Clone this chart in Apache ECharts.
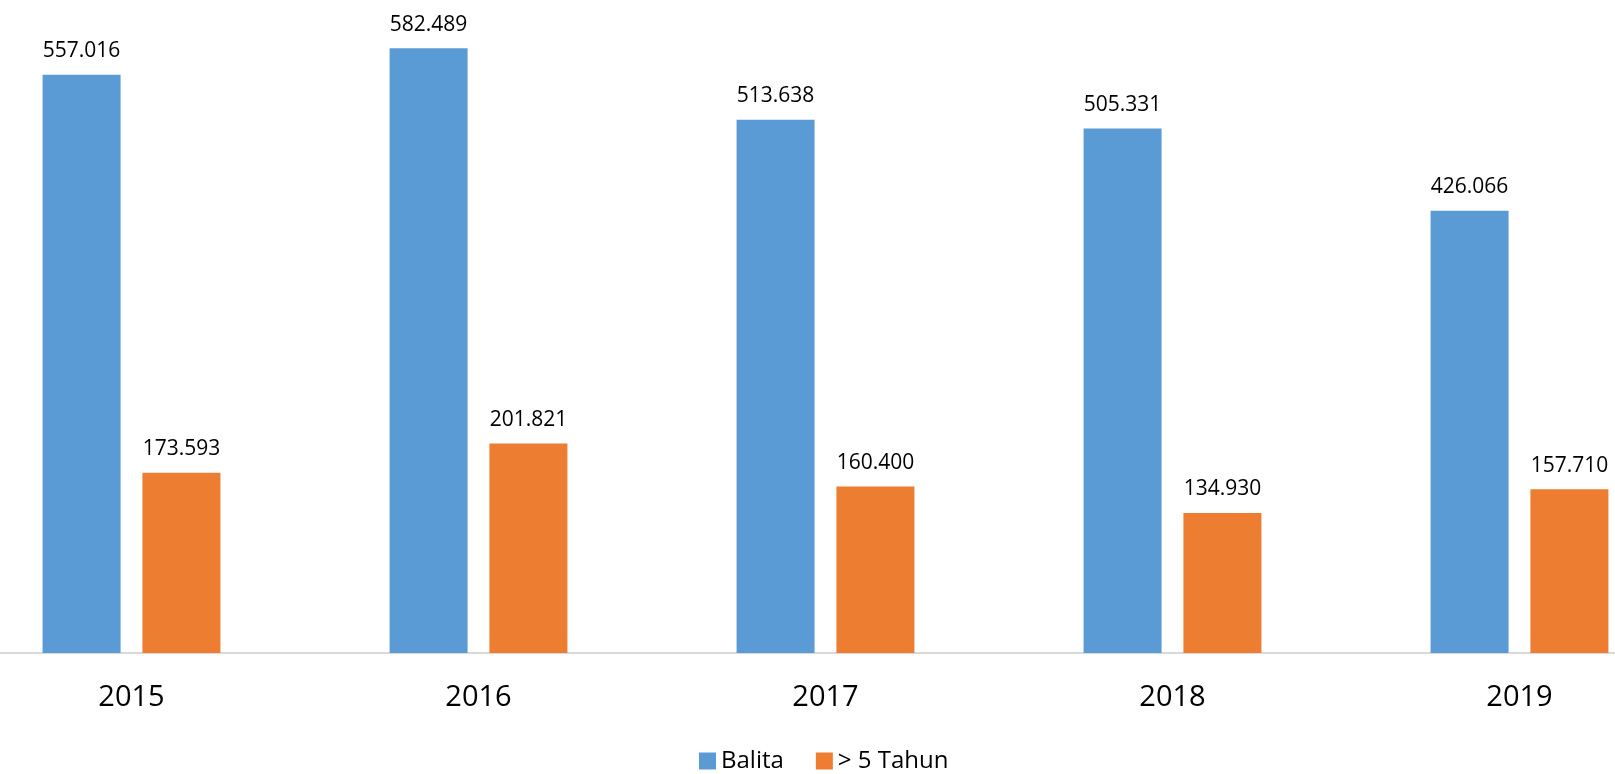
<!DOCTYPE html>
<html lang="id">

<head>
    <meta charset="UTF-8">
    <title>Balita dan > 5 Tahun</title>
    <script src="https://cdn.jsdelivr.net/npm/echarts@6/dist/echarts.min.js"></script>
    <style>
        html, body {
            margin: 0;
            height: 100%;
            background: #fff;
        }

        #chart {
            width: 1615px;
            height: 774px;
        }
    </style>
</head>

<body>
    <div id="chart"></div>
    <script>
        var years = ['2015', '2016', '2017', '2018', '2019'];
        var balita = [557016, 582489, 513638, 505331, 426066];
        var lebih5 = [173593, 201821, 160400, 134930, 157710];
        var seriesNames = ['Balita', '> 5 Tahun'];

        // angka pakai titik sebagai pemisah ribuan
        function fmt(v) {
            return String(v).replace(/\B(?=(\d{3})+(?!\d))/g, '.');
        }

        var labelStyle = {
            show: true,
            position: 'top',
            distance: 13,
            color: '#000',
            fontFamily: 'Open Sans',
            fontSize: 21,
            formatter: function (p) { return fmt(p.value); }
        };

        var chart = echarts.init(document.getElementById('chart'));
        chart.setOption({
            animation: false,
            textStyle: { fontFamily: 'Open Sans' },
            grid: {
                left: -42,
                width: 1735,
                top: 0,
                bottom: 121,
                outerBoundsMode: 'none',
                containLabel: false
            },
            legend: {
                data: seriesNames,
                left: 699,
                top: 749,
                padding: 0,
                itemWidth: 17,
                itemHeight: 17,
                itemGap: 32,
                icon: 'rect',
                textStyle: { fontSize: 24, color: '#000', fontFamily: 'Open Sans' }
            },
            xAxis: {
                type: 'category',
                data: years,
                axisLine: { lineStyle: { color: '#d9d9d9', width: 2 } },
                axisTick: { show: false },
                axisLabel: { margin: 30, fontSize: 29, color: '#000', fontFamily: 'Open Sans' }
            },
            yAxis: {
                type: 'value',
                min: 0,
                max: 629000,
                show: false,
                splitLine: { show: false }
            },
            series: [
                {
                    name: seriesNames[0],
                    type: 'bar',
                    data: balita,
                    barWidth: 78,
                    barGap: '28%',
                    itemStyle: { color: '#5b9bd5' },
                    label: labelStyle
                },
                {
                    name: seriesNames[1],
                    type: 'bar',
                    data: lebih5,
                    barWidth: 78,
                    barGap: '28%',
                    itemStyle: { color: '#ed7d31' },
                    label: labelStyle
                }
            ]
        });
    </script>
</body>

</html>
